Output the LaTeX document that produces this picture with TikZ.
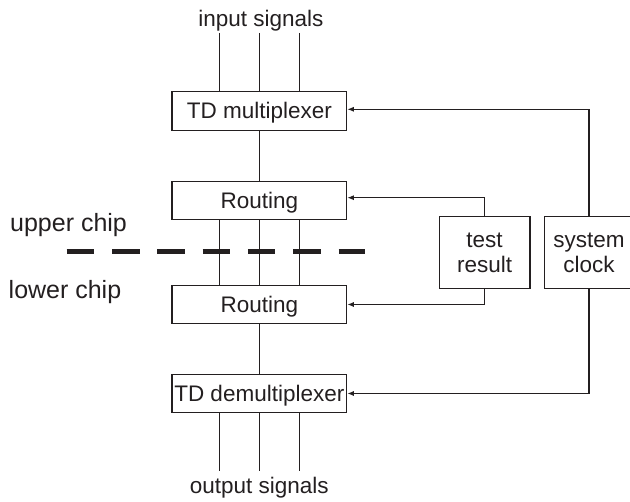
\documentclass[tikz,border=0pt]{standalone}
\usepackage{fontspec}
\setmainfont{Liberation Sans}
\usetikzlibrary{arrows.meta}
\definecolor{ink}{RGB}{35,31,32}
\begin{document}
\begin{tikzpicture}[x=1pt,y=-1pt,
  every node/.style={text=ink},
  conn/.style={draw=ink,line width=1.2pt},
  arr/.style={conn,-{Latex[length=6.5pt,width=5pt]}},
  wide/.style={draw=ink,line width=1.2pt,minimum width=174.7pt,minimum height=38.5pt,inner sep=0pt,
    font=\fontsize{22.5}{25}\selectfont,text height=16pt,text depth=0pt},
  side/.style={draw=ink,line width=1.2pt,minimum height=71.6pt,inner sep=0pt,align=center,
    font=\fontsize{22.5}{25}\selectfont},
  sig/.style={font=\fontsize{22.5}{25}\selectfont,anchor=base,inner sep=0pt},
  chip/.style={font=\fontsize{25}{28}\selectfont,anchor=base west,inner sep=0pt},
  cut/.style={draw=ink,line width=5pt,dash pattern=on 27.5pt off 17.8pt}]
\useasboundingbox (0,0) rectangle (630,502);
\clip (0,0) rectangle (630,502);
% boxes
\node[wide] (mux) at (259.3,110.9) {TD multiplexer};
\node[wide] (rt1) at (259.3,200.5) {Routing};
\node[wide] (rt2) at (259.3,304.5) {Routing};
\node[wide] (dmx) at (259.3,393.5) {TD demultiplexer};
\node[side,minimum width=90.7pt] (tr) at (484.6,252.5) {test\\result};
\node[side,minimum width=89.4pt] (clk) at (589,252.5) {system\\clock};
% labels
\node[sig] (inlab) at (261,26.7) {input signals};
\node[sig] (outlab) at (259.3,494) {output signals};
\node[chip] (up) at (10,231.7) {upper chip};
\node[chip] (lo) at (8.5,298.3) {lower chip};
% chip boundary
\coordinate (cutA) at (66.7,251.7);
\coordinate (cutB) at (365,251.7);
\draw[cut] (cutA) -- (cutB);
% input / output lines
\coordinate (i1) at (219.3,33);
\coordinate (i2) at (259.3,33);
\coordinate (i3) at (299.3,33);
\coordinate (o1) at (219.3,470.7);
\coordinate (o2) at (259.3,470.7);
\coordinate (o3) at (299.3,470.7);
\foreach \c in {i1,i2,i3} \draw[conn] (\c) -- (\c |- mux.north);
\foreach \c in {o1,o2,o3} \draw[conn] (\c) -- (\c |- dmx.south);
% routing interconnects
\foreach \c in {i1,i2,i3} \draw[conn] (\c |- rt1.south) -- (\c |- rt2.north);
\draw[conn] (mux.south) -- (rt1.north);
\draw[conn] (rt2.south) -- (dmx.north);
% control connections
\draw[arr] (tr.north) |- ([yshift=2.8pt]rt1.east);
\draw[arr] (tr.south) |- (rt2.east);
\draw[arr] (clk.north) |- ([yshift=1.6pt]mux.east);
\draw[arr] (clk.south) |- (dmx.east);
\end{tikzpicture}
\end{document}
